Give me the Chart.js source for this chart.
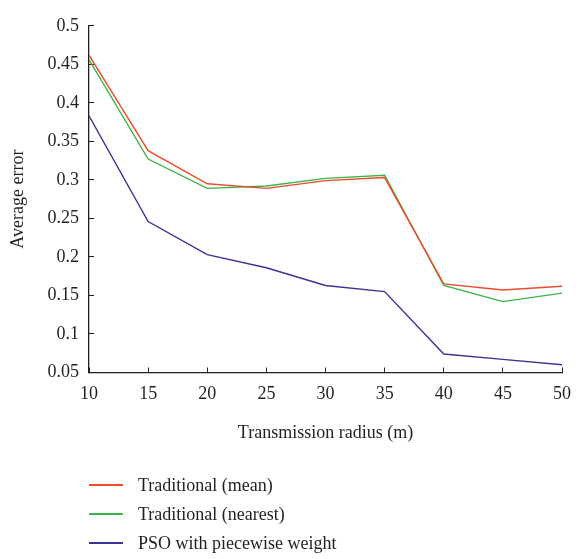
<!DOCTYPE html>
<html>
<head>
<meta charset="utf-8">
<script src="https://cdn.jsdelivr.net/npm/chart.js@4.4.0/dist/chart.umd.min.js"></script>
<style>
  html, body { margin: 0; padding: 0; background: #fff; }
  #wrap { position: relative; width: 587px; height: 559px; }
  #legend { position: absolute; left: 89px; top: 471px; font-family: "Liberation Serif", "DejaVu Serif", serif; font-size: 18px; color: #231f20; }
  .row { height: 28px; display: flex; align-items: center; margin-bottom: 1px; }
  .swatch { display: inline-block; width: 34px; height: 2px; margin-right: 15px; }
</style>
</head>
<body>
<div id="wrap">
  <canvas id="chart" width="587" height="559"></canvas>
  <div id="legend"></div>
</div>
<script>
// data
var radius = [10, 15, 20, 25, 30, 35, 40, 45, 50];
var meanError = [0.462, 0.338, 0.295, 0.289, 0.299, 0.303, 0.165, 0.157, 0.162];
var nearestError = [0.456, 0.327, 0.289, 0.292, 0.302, 0.306, 0.163, 0.142, 0.153];
var psoError = [0.383, 0.246, 0.203, 0.186, 0.163, 0.155, 0.074, 0.067, 0.060];

var seriesNames = ["Traditional (mean)", "Traditional (nearest)", "PSO with piecewise weight"];
var seriesColors = ["#ef4a2c", "#3cb54a", "#3a3397"];

var xTicks = [10, 15, 20, 25, 30, 35, 40, 45, 50];
var yTicks = [0.05, 0.1, 0.15, 0.2, 0.25, 0.3, 0.35, 0.4, 0.45, 0.5];

var textColor = "#231f20";
var serif = "'Liberation Serif', 'DejaVu Serif', serif";

function toPoints(values) { //pair each value with its radius
    var pts = [];
    for (var i = 0; i < radius.length; i++) {
        pts.push({ x: radius[i], y: values[i] });
    }
    return pts;
}

var allSeries = [meanError, nearestError, psoError];
var datasets = [];
for (var i = 0; i < allSeries.length; i++) {
    datasets.push({
        label: seriesNames[i],
        data: toPoints(allSeries[i]),
        borderColor: seriesColors[i],
        backgroundColor: seriesColors[i],
        borderWidth: 1.4,
        pointRadius: 0,
        tension: 0,
        fill: false
    });
}

var ctx = document.getElementById('chart').getContext('2d');
var myChart = new Chart(ctx, {
    type: 'line',
    data: { datasets: datasets },
    options: {
        responsive: false,
        animation: false,
        layout: { padding: { top: 16, right: 13, bottom: 115, left: 0 } },
        plugins: { legend: { display: false }, tooltip: { enabled: false } },
        scales: {
            x: {
                type: 'linear',
                min: 10,
                max: 50,
                afterBuildTicks: function (scale) {
                    scale.ticks = xTicks.map(function (v) { return { value: v }; });
                },
                afterFit: function (scale) { scale.height = 71.5; },
                ticks: { color: textColor, font: { family: serif, size: 18 }, padding: 16, maxRotation: 0 },
                grid: { drawOnChartArea: false, tickLength: -5, color: textColor, lineWidth: 1 },
                border: { color: textColor, width: 1.3 },
                title: { display: true, text: 'Transmission radius (m)', color: textColor, font: { family: serif, size: 18 }, padding: 0 }
            },
            y: {
                type: 'linear',
                min: 0.05,
                max: 0.5,
                afterBuildTicks: function (scale) {
                    scale.ticks = yTicks.map(function (v) { return { value: v }; });
                },
                afterFit: function (scale) { scale.width = 89; },
                ticks: {
                    color: textColor, font: { family: serif, size: 18 }, padding: 15,
                    callback: function (v) { return String(v); }
                },
                grid: { drawOnChartArea: false, tickLength: -5, color: textColor, lineWidth: 1 },
                border: { color: textColor, width: 1.3 },
                title: { display: true, text: 'Average error', color: textColor, font: { family: serif, size: 18 }, padding: { top: 7, bottom: 0 } }
            }
        }
    }
});

// legend below the chart, built from the series names and colours
var legendEl = document.getElementById('legend');
for (var j = 0; j < seriesNames.length; j++) {
    var row = document.createElement('div');
    row.className = 'row';
    var sw = document.createElement('span');
    sw.className = 'swatch';
    sw.style.background = seriesColors[j];
    var txt = document.createElement('span');
    txt.textContent = seriesNames[j];
    row.appendChild(sw);
    row.appendChild(txt);
    legendEl.appendChild(row);
}
</script>
</body>
</html>
